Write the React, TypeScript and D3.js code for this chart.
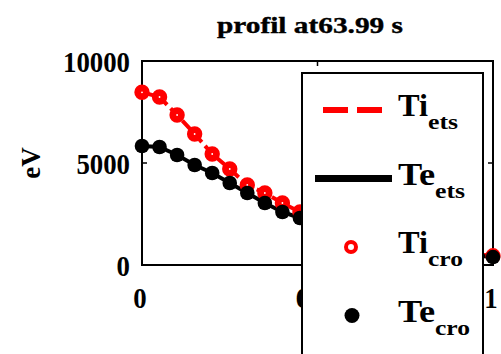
import React from "react";
import * as d3 from "d3";

// radius, normalised
var radius = [0, 0.05, 0.1, 0.15, 0.2, 0.25, 0.3, 0.35, 0.4, 0.45, 0.5, 0.55, 0.6, 0.65, 0.7, 0.75, 0.8, 0.85, 0.9, 0.95, 1];
// ion temperature (eV), points right of 0.45 are hidden by the legend - estimates
var tiCro = [8466, 8235, 7353, 6422, 5441, 4706, 3922, 3529, 3039, 2598, 2250, 1950, 1700, 1480, 1280, 1100, 930, 780, 640, 530, 450];
// electron temperature (eV)
var teCro = [5833, 5784, 5392, 4902, 4510, 4020, 3529, 3039, 2598, 2304, 2000, 1750, 1520, 1320, 1140, 980, 830, 690, 570, 470, 390];
var xTicks = [0, 0.5, 1];
var yTicks = [0, 5000, 10000];
var yTickLabels = ["0", "5000", "10000"];
var legendItems = [
    { main: "Ti", sub: "ets", kind: "dash" },
    { main: "Te", sub: "ets", kind: "line" },
    { main: "Ti", sub: "cro", kind: "ring" },
    { main: "Te", sub: "cro", kind: "dot" },
];

var margin = { top: 61, right: 8, bottom: 89, left: 142 },
    width = 501 - margin.left - margin.right,
    height = 354 - margin.top - margin.bottom;
var font = "'Liberation Serif', 'Times New Roman', serif";

function App() {
    var x = d3.scaleLinear().domain([0, 1]).range([margin.left, margin.left + width]);
    var y = d3.scaleLinear().domain([0, 10000]).range([margin.top + height, margin.top]);

    var tiLine = d3.line<number>().x((d, i) => x(radius[i])).y(d => y(d))(tiCro) || "";
    var teLine = d3.line<number>().x((d, i) => x(radius[i])).y(d => y(d))(teCro) || "";

    var yLabelWidth = (s: string) => s.length * 13.4;

    return (
        <svg width={501} height={354} style={{ position: "absolute", left: 0, top: 0, background: "#fff" }}
            fontFamily={font} fontWeight="bold">
            <text x={310} y={33} textAnchor="middle" fontSize={24} textLength={186} lengthAdjust="spacingAndGlyphs"
                stroke="#000" strokeWidth={0.4}>
                profil at63.99 s
            </text>
            <text transform="translate(40,163) rotate(-90)" textAnchor="middle" fontSize={27}>eV</text>

            {/* y ticks and labels */}
            {yTicks.map((t, i) => (
                <g key={"y" + t}>
                    <text x={130} y={y(t) + 11} textAnchor="end" fontSize={30}
                        textLength={yLabelWidth(yTickLabels[i])} lengthAdjust="spacingAndGlyphs">{yTickLabels[i]}</text>
                    <line x1={x(0)} x2={x(0) + 5} y1={y(t)} y2={y(t)} stroke="#000" strokeWidth={1.5} />
                    <line x1={x(1)} x2={x(1) - 5} y1={y(t)} y2={y(t)} stroke="#000" strokeWidth={1.5} />
                </g>
            ))}
            {/* x ticks and labels */}
            {xTicks.map(t => (
                <g key={"x" + t}>
                    <text x={x(t) - 2} y={y(0) + 43} textAnchor="middle" fontSize={30}
                        textLength={String(t).length * 13.4} lengthAdjust="spacingAndGlyphs">{String(t)}</text>
                    <line x1={x(t)} x2={x(t)} y1={y(10000)} y2={y(10000) + 5} stroke="#000" strokeWidth={1.5} />
                    <line x1={x(t)} x2={x(t)} y1={y(0)} y2={y(0) - 5} stroke="#000" strokeWidth={1.5} />
                </g>
            ))}
            <rect x={x(0)} y={y(10000)} width={width} height={height} fill="none" stroke="#000" strokeWidth={2} />

            <path d={tiLine} fill="none" stroke="#ff0000" strokeWidth={4} strokeDasharray="12,5" />
            <path d={teLine} fill="none" stroke="#000" strokeWidth={4} />
            {tiCro.map((v, i) => (
                <circle key={"ti" + i} cx={x(radius[i])} cy={y(v)} r={4.3} fill="#fff" stroke="#ff0000" strokeWidth={6.8} />
            ))}
            {teCro.map((v, i) => (
                <circle key={"te" + i} cx={x(radius[i])} cy={y(v)} r={7.3} fill="#000" />
            ))}

            {/* legend */}
            <rect x={302} y={73} width={181} height={300} fill="#fff" stroke="#000" strokeWidth={2} />
            {legendItems.map((it, i) => {
                var cy = 110 + i * 68.5;
                return (
                    <g key={"l" + i}>
                        {it.kind === "dash" && <line x1={323} x2={383} y1={cy} y2={cy} stroke="#ff0000" strokeWidth={6} strokeDasharray="25,9" />}
                        {it.kind === "line" && <line x1={315} x2={392} y1={cy} y2={cy} stroke="#000" strokeWidth={7} />}
                        {it.kind === "ring" && <circle cx={351} cy={cy} r={5} fill="#fff" stroke="#ff0000" strokeWidth={4} />}
                        {it.kind === "dot" && <circle cx={352} cy={cy} r={7.5} fill="#000" />}
                        <text x={398} y={cy + 6} fontSize={32} textLength={it.main === "Ti" ? 30 : 37}
                            lengthAdjust="spacingAndGlyphs">{it.main}</text>
                        <text x={it.main === "Ti" ? 428 : 435} y={cy + 19} fontSize={21} textLength={it.sub === "ets" ? 30 : 35}
                            lengthAdjust="spacingAndGlyphs">{it.sub}</text>
                    </g>
                );
            })}
        </svg>
    );
}

export default App;
